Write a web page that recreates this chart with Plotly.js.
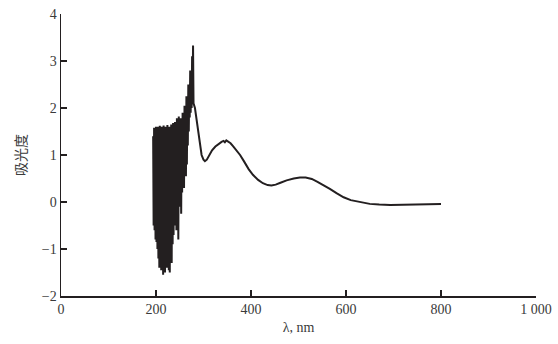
<!DOCTYPE html>
<html><head><meta charset="utf-8">
<script src="https://cdn.plot.ly/plotly-3.0.1.min.js"></script>
<style>html,body{margin:0;padding:0;background:#fff;}#chart{width:558px;height:344px;}</style>
</head><body><div id="chart"></div>
<script>
// Noisy short-wavelength region (nm, absorbance)
const noisyX = [194,195,196,197,198,199,200,201,202,203,204,205,206,207,208,209,210,211,212,213,214,215,216,217,218,219,220,221,222,223,224,225,226,227,228,229,230,231,232,233,234,235,236,237,238,239,240,241,242,243,244,245,246,247,248,249,250,251,252,253,254,255,256,257,258,259,260,261,262,263,264,265,266,267,268,269,270,271,272,273,274,275,276,277,278,279];
const noisyY = [1.4,-0.5,1.58,-0.6,1.45,-0.8,1.6,-0.85,1.38,-1.0,1.6,-1.2,1.5,-1.4,1.62,-1.1,1.42,-1.45,1.6,-1.3,1.52,-1.55,1.63,-1.2,1.46,-1.5,1.6,-1.35,1.4,-1.4,1.64,-1.1,1.5,-1.45,1.6,-1.5,1.44,-1.2,1.65,-1.3,1.52,-0.9,1.68,-0.7,1.5,-0.5,1.7,-0.45,1.55,-0.6,1.78,-0.3,1.6,-0.8,1.82,-0.1,1.65,0.0,1.78,-0.25,1.7,0.2,1.9,0.4,1.8,0.3,2.05,0.6,1.95,0.55,2.25,0.8,2.2,1.2,2.5,1.5,2.45,1.8,2.8,1.9,2.75,2.0,3.1,2.1,3.33,2.1];
// Smooth region
const smoothX = [282,285,289,293,296,300,303,307,312,318,325,332,338,342,345,348,352,357,363,370,377,385,395,404,415,425,435,443,452,462,475,490,503,515,528,540,553,566,580,595,610,629,650,670,693,720,750,780,800];
const smoothY = [2.0,1.8,1.5,1.2,1.0,0.9,0.87,0.9,1.0,1.1,1.18,1.24,1.28,1.3,1.27,1.31,1.28,1.25,1.18,1.1,1.0,0.87,0.7,0.58,0.47,0.4,0.36,0.35,0.37,0.41,0.46,0.5,0.52,0.52,0.49,0.43,0.36,0.28,0.19,0.1,0.04,0.0,-0.04,-0.055,-0.065,-0.06,-0.05,-0.045,-0.04];
const xTickVals = [0,200,400,600,800,1000];
const xTickText = ["0","200","400","600","800","1 000"];
const yTickVals = [-2,-1,0,1,2,3,4];

const xs = noisyX.concat(smoothX);
const ys = noisyY.concat(smoothY);

const axisCol = '#231f20';
const tickFont = {family:'"Liberation Serif","DejaVu Serif",serif', size:14, color:'#3a3a3a'};

Plotly.newPlot('chart', [{
  x: xs, y: ys, type:'scatter', mode:'lines',
  line:{color:'#231f20', width:2}, hoverinfo:'skip'
}], {
  width:558, height:344,
  margin:{l:61, r:22, t:14, b:48},
  paper_bgcolor:'#fff', plot_bgcolor:'#fff',
  showlegend:false,
  xaxis:{range:[0,1000], tickvals:xTickVals, ticktext:xTickText, ticks:'inside', ticklen:6, tickwidth:1.5, tickcolor:axisCol,
    showline:true, linecolor:axisCol, linewidth:1.5, showgrid:false, zeroline:false, tickfont:tickFont,
    title:{text:'λ, nm', font:{family:'"Liberation Serif",serif', size:14, color:'#3a3a3a'}, standoff:6}},
  yaxis:{range:[-2,4], tickvals:yTickVals, ticks:'inside', ticklen:6, tickwidth:1.5, tickcolor:axisCol,
    showline:true, linecolor:axisCol, linewidth:1.5, showgrid:false, zeroline:false, tickfont:tickFont,
    title:{text:'吸光度', font:{family:'"Noto Sans CJK SC",sans-serif', size:14, color:'#3a3a3a'}, standoff:12}}
}, {staticPlot:true});
</script></body></html>
